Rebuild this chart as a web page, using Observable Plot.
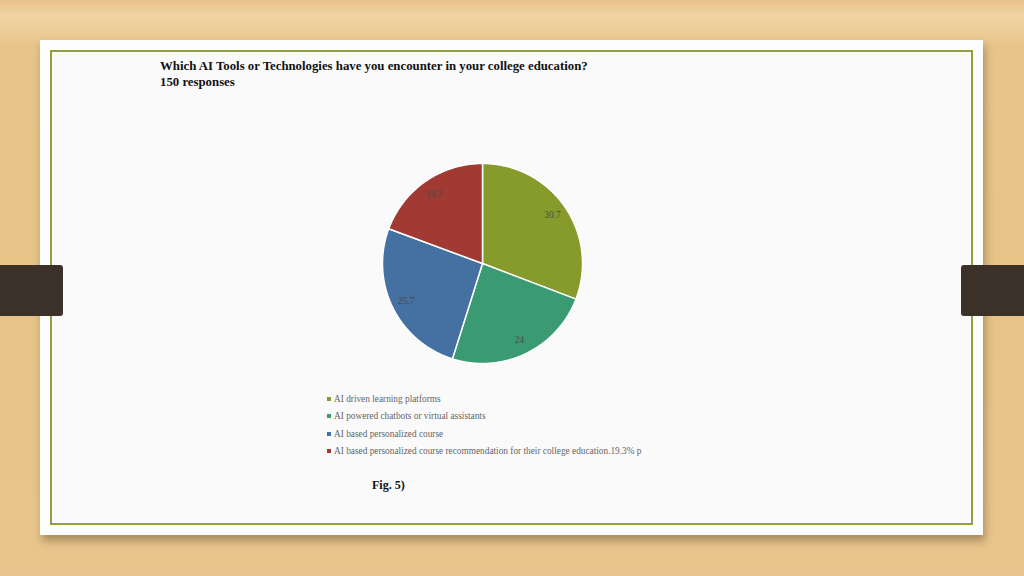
<!DOCTYPE html>
<html>
<head>
<meta charset="utf-8">
<script src="https://cdn.jsdelivr.net/npm/d3@7"></script>
<script src="https://cdn.jsdelivr.net/npm/@observablehq/plot@0.6"></script>
<style>
  html, body { margin: 0; padding: 0; }
  body {
    width: 1024px; height: 576px; position: relative; overflow: hidden;
    background: linear-gradient(180deg, #e8c389 0px, #efd3a2 15px, #ecce9a 30px, #e8c48a 45px, #e7c388 300px, #e8c58c 576px);
    font-family: "Liberation Serif", "Times New Roman", serif;
  }
  .card {
    position: absolute; left: 40px; top: 40px; width: 943px; height: 495px;
    background: #fdfdfd; box-shadow: 2px 6px 8px rgba(90,70,40,0.45);
  }
  .inner {
    position: absolute; left: 10px; top: 10px; width: 919px; height: 471px;
    border: 2px solid #8ca33e; background: #fafafa;
  }
  .tab {
    position: absolute; top: 265px; width: 63px; height: 51px; background: #3b3128;
  }
  .tab.l { left: 0; border-radius: 0 3px 3px 0; }
  .tab.r { left: 961px; border-radius: 3px 0 0 3px; }
  .title {
    position: absolute; left: 160px; top: 58px; font-weight: bold; font-size: 12.8px;
    color: #111; line-height: 16px;
  }
  #chart { position: absolute; left: 372px; top: 153px; }
  .legend {
    position: absolute; left: 327px; top: 392px; font-size: 9.3px; color: #666;
  }
  .legend div { height: 17.3px; line-height: 14px; white-space: nowrap; }
  .legend span.sw { display: inline-block; width: 4px; height: 4px; margin-right: 3px; vertical-align: 1px; }
  .fig { position: absolute; left: 372px; top: 478px; font-weight: bold; font-size: 12px; color: #111; }
</style>
</head>
<body>
<div class="card"><div class="inner"></div></div>
<div class="tab l"></div>
<div class="tab r"></div>
<div class="title">Which AI Tools or Technologies have you encounter in your college education?<br>150 responses</div>
<div id="chart"></div>
<div class="legend" id="legend"></div>
<div class="fig">Fig. 5)</div>
<script>
const categories = [
  "AI driven learning platforms",
  "AI powered chatbots or virtual assistants",
  "AI based personalized course",
  "AI based personalized course recommendation for their college education.19.3% p"
];
const values = [30.7, 24, 25.7, 19.3];
const labels = ["30.7", "24", "25.7", "19.3"];
const colors = ["#869b2b", "#3a9a71", "#4570a2", "#a03a32"];

const data = categories.map((c, i) => ({category: c, value: values[i], label: labels[i]}));
const arcs = d3.pie().value(d => d.value).sort(null)(data);

// slice polygons in unit coordinates (angle 0 at top, clockwise)
const pts = [];
arcs.forEach(a => {
  const n = Math.max(2, Math.ceil((a.endAngle - a.startAngle) / 0.01));
  pts.push({category: a.data.category, x: 0, y: 0});
  for (let k = 0; k <= n; k++) {
    const t = a.startAngle + (a.endAngle - a.startAngle) * k / n;
    pts.push({category: a.data.category, x: Math.sin(t), y: Math.cos(t)});
  }
  pts.push({category: a.data.category, x: 0, y: 0});
});
const lab = arcs.map(a => {
  const m = (a.startAngle + a.endAngle) / 2;
  return {label: a.data.label, x: 0.85 * Math.sin(m), y: 0.85 * Math.cos(m)};
});

const chart = Plot.plot({
  width: 220, height: 220, margin: 0,
  x: {domain: [-1.1, 1.1], axis: null},
  y: {domain: [-1.1, 1.1], axis: null},
  color: {domain: categories, range: colors},
  marks: [
    Plot.line(pts, {x: "x", y: "y", z: "category", fill: "category", stroke: "white", strokeWidth: 1.5, curve: "linear"}),
    Plot.text(lab, {x: "x", y: "y", text: "label", fill: "#4a4a4a", fontSize: 9.3, fontFamily: "Liberation Serif"})
  ],
  style: {background: "transparent", overflow: "visible"}
});
document.getElementById("chart").append(chart);

const leg = document.getElementById("legend");
categories.forEach((c, i) => {
  const d = document.createElement("div");
  const s = document.createElement("span");
  s.className = "sw"; s.style.background = colors[i];
  d.append(s, document.createTextNode(c));
  leg.append(d);
});
</script>
</body>
</html>
